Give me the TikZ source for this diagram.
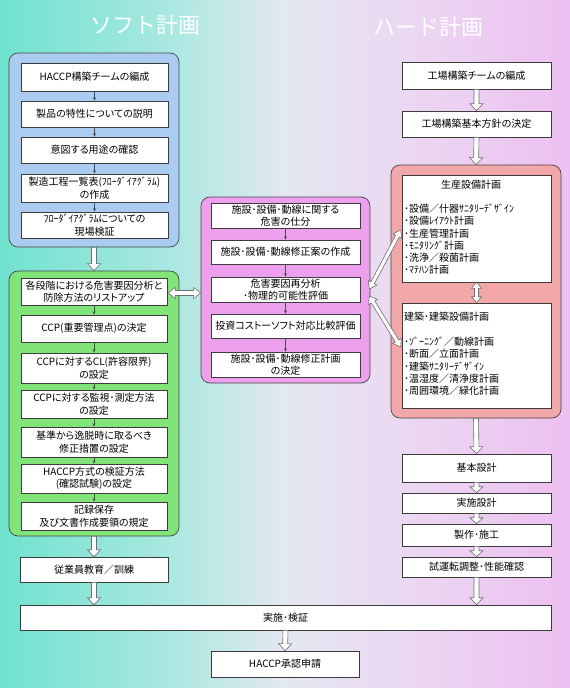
\documentclass[tikz,border=0pt]{standalone}
\usepackage{fontspec}
\setmainfont[RawFeature=+palt]{Noto Sans CJK JP}
\newfontfamily\titlefont{Noto Sans CJK JP}
\usetikzlibrary{calc,arrows.meta}
\definecolor{bgA}{RGB}{44,216,184}
\definecolor{bgB}{RGB}{92,224,200}
\definecolor{bgC}{RGB}{170,232,225}
\definecolor{bgD}{RGB}{228,232,240}
\definecolor{bgE}{RGB}{236,212,242}
\definecolor{bgF}{RGB}{237,184,240}
\definecolor{bgH}{RGB}{239,168,240}
\definecolor{bgG}{RGB}{240,160,238}
\definecolor{grpblue}{RGB}{170,204,240}
\definecolor{grpgreen}{RGB}{128,228,120}
\definecolor{grppink}{RGB}{238,160,238}
\definecolor{grpred}{RGB}{242,168,168}
\definecolor{grpline}{RGB}{70,70,70}
\definecolor{boxline}{RGB}{60,60,60}
\definecolor{arrline}{RGB}{110,110,110}
\pgfdeclarehorizontalshading{bgshade}{100bp}{color(0bp)=(bgA); color(20bp)=(bgB); color(40bp)=(bgC); color(50bp)=(bgD); color(63bp)=(bgE); color(80bp)=(bgF); color(90bp)=(bgH); color(100bp)=(bgG)}
\newcommand\bodyfont{\fontsize{10}{12.5}\selectfont}
\newcommand\listfont{\fontsize{10}{12.2}\selectfont}
% single hollow arrow: from, to, shaft half width, head half width, head length
\newcommand\hollowarrow[5]{%
  \coordinate (hac) at ($(#2)!#5!(#1)$);
  \draw[harrow] ($(#1)!#3!90:(#2)$) -- ($(hac)!#3!90:(#2)$) -- ($(hac)!#4!90:(#2)$) -- (#2)
    -- ($(hac)!#4!-90:(#2)$) -- ($(hac)!#3!-90:(#2)$) -- ($(#1)!#3!-90:(#2)$) -- cycle;}
% double hollow arrow
\newcommand\dblhollowarrow[5]{%
  \coordinate (hca) at ($(#1)!#5!(#2)$);
  \coordinate (hcb) at ($(#2)!#5!(#1)$);
  \draw[harrow] (#1) -- ($(hca)!#4!90:(#2)$) -- ($(hca)!#3!90:(#2)$) -- ($(hcb)!#3!90:(#2)$)
    -- ($(hcb)!#4!90:(#2)$) -- (#2) -- ($(hcb)!#4!-90:(#2)$) -- ($(hcb)!#3!-90:(#2)$)
    -- ($(hca)!#3!-90:(#2)$) -- ($(hca)!#4!-90:(#2)$) -- cycle;}
\begin{document}
\begin{tikzpicture}[x=1pt,y=-1pt,
  ibox/.style={draw=boxline, fill=white, line width=0.6pt, inner sep=1pt, align=center, font=\bodyfont},
  group/.style={draw=grpline, rounded corners=9pt, line width=0.7pt},
  sarrow/.style={draw=black!70, line width=0.5pt, -{Stealth[length=3.5pt,width=3pt]}},
  harrow/.style={draw=arrline, fill=white, line width=0.6pt, line join=miter},
  ttl/.style={text=white, font=\titlefont\fontsize{22}{24}\selectfont, inner sep=0pt},
  listtxt/.style={align=left, inner sep=0pt, font=\listfont}]
\useasboundingbox (0,0) rectangle (570,688);
\shade[shading=bgshade] (0,0) rectangle (570,688);

% titles
\node[ttl] (tsoft) at (145,25) {ソフト計画};
\node[ttl] (thard) at (428,27) {ハード計画};

% ---- blue group ----
\node[group, fill=grpblue, minimum width=170pt, minimum height=194pt] (blue) at (94,150) {};
\node[ibox, minimum width=147pt, minimum height=28pt] (b1) at (94.5,77) {HACCP構築チームの編成};
\node[ibox, minimum width=147pt, minimum height=26pt] (b2) at (94.5,114) {製品の特性についての説明};
\node[ibox, minimum width=147pt, minimum height=26pt] (b3) at (94.5,150) {意図する用途の確認};
\node[ibox, minimum width=147pt, minimum height=28pt] (b4) at (94.5,188) {製造工程一覧表(ﾌﾛｰﾀﾞｲｱｸﾞﾗﾑ)\\の作成};
\node[ibox, minimum width=147pt, minimum height=26pt] (b5) at (94.5,225) {ﾌﾛｰﾀﾞｲｱｸﾞﾗﾑについての\\現場検証};
\foreach \a/\b in {b1/b2,b2/b3,b3/b4,b4/b5} \draw[sarrow] (\a.south) -- (\b.north);

% ---- green group ----
\node[group, fill=grpgreen, minimum width=170pt, minimum height=265pt] (green) at (94,403.5) {};
\node[ibox, minimum width=146pt, minimum height=27pt] (g1) at (94,291.5) {各段階における危害要因分析と\\防除方法のリストアップ};
\node[ibox, minimum width=146pt, minimum height=27pt] (g2) at (94,328.5) {CCP(重要管理点)の決定};
\node[ibox, minimum width=146pt, minimum height=30pt] (g3) at (94,368) {CCPに対するCL(許容限界)\\の設定};
\node[ibox, minimum width=146pt, minimum height=28pt] (g4) at (94,404) {CCPに対する監視･測定方法\\の設定};
\node[ibox, minimum width=146pt, minimum height=30pt] (g5) at (94,442) {基準から逸脱時に取るべき\\修正措置の設定};
\node[ibox, minimum width=146pt, minimum height=29pt] (g6) at (94,478.5) {HACCP方式の検証方法\\(確認試験)の設定};
\node[ibox, minimum width=146pt, minimum height=28pt] (g7) at (94,516) {記録保存\\及び文書作成要領の規定};
\foreach \a/\b in {g1/g2,g2/g3,g3/g4,g4/g5,g5/g6,g6/g7} \draw[sarrow] (\a.south) -- (\b.north);

% ---- bottom left ----
\node[ibox, minimum width=148pt, minimum height=25pt] (emp) at (94,569.5) {従業員教育／訓練};
\node[ibox, minimum width=531pt, minimum height=25pt] (jisshi) at (285.5,617.5) {実施･検証};
\node[ibox, minimum width=148pt, minimum height=26pt] (haccp) at (285,664) {HACCP承認申請};

% ---- pink group ----
\node[group, fill=grppink, minimum width=169pt, minimum height=186pt] (pink) at (285.5,290) {};
\node[ibox, minimum width=149pt, minimum height=25pt] (p1) at (285.5,215.5) {施設･設備･動線に関する\\危害の仕分};
\node[ibox, minimum width=149pt, minimum height=24pt] (p2) at (285.5,252) {施設･設備･動線修正案の作成};
\node[ibox, minimum width=149pt, minimum height=25pt] (p3) at (285.5,289.5) {危害要因再分析\\･物理的可能性評価};
\node[ibox, minimum width=149pt, minimum height=24pt] (p4) at (285.5,326) {投資コストーソフト対応比較評価};
\node[ibox, minimum width=149pt, minimum height=25pt] (p5) at (285.5,364.5) {施設･設備･動線修正計画\\の決定};
\foreach \a/\b in {p1/p2,p2/p3,p3/p4,p4/p5} \draw[sarrow] (\a.south) -- (\b.north);

% ---- right column ----
\node[ibox, minimum width=149pt, minimum height=27pt] (r1) at (476.5,75.5) {工場構築チームの編成};
\node[ibox, minimum width=149pt, minimum height=26pt] (r2) at (476.5,124) {工場構築基本方針の決定};
\node[group, fill=grpred, minimum width=170pt, minimum height=253pt] (red) at (476,291.5) {};
\node[ibox, minimum width=149pt, minimum height=107pt] (prod) at (476.5,228.5) {};
\node[ibox, minimum width=149pt, minimum height=105pt] (arch) at (476.5,355.5) {};
\node[inner sep=0pt, font=\bodyfont] (prodt) at (471,185) {生産設備計画};
\node[listtxt, anchor=north west] (prodl) at (404,204) {･設備／什器ｻﾆﾀﾘｰﾃﾞｻﾞｲﾝ\\･設備ﾚｲｱｳﾄ計画\\･生産管理計画\\･ﾓﾆﾀﾘﾝｸﾞ計画\\･洗浄／殺菌計画\\･ﾏﾃﾊﾝ計画};
\node[inner sep=0pt, font=\bodyfont, anchor=west] (archt) at (404,317) {建築･建築設備計画};
\node[listtxt, anchor=north west] (archl) at (404,337) {･ｿﾞｰﾆﾝｸﾞ／動線計画\\･断面／立面計画\\･建築ｻﾆﾀﾘｰﾃﾞｻﾞｲﾝ\\･温湿度／清浄度計画\\･周囲環境／緑化計画};
\node[ibox, minimum width=149pt, minimum height=28pt] (kihon) at (476.5,468) {基本設計};
\node[ibox, minimum width=149pt, minimum height=20pt] (jsek) at (476.5,503) {実施設計};
\node[ibox, minimum width=149pt, minimum height=22pt] (seis) at (476.5,535) {製作･施工};
\node[ibox, minimum width=149pt, minimum height=20pt] (shi) at (476.5,567) {試運転調整･性能確認};

% ---- hollow arrows ----
\hollowarrow{blue.south}{green.north}{2.5pt}{6.5pt}{7pt}
\hollowarrow{green.south}{emp.north}{2.5pt}{6.5pt}{7pt}
\coordinate (empj) at (emp.south |- jisshi.north);
\hollowarrow{emp.south}{empj}{2.5pt}{6.5pt}{7pt}
\hollowarrow{jisshi.south}{haccp.north}{2.5pt}{6.5pt}{7pt}
\hollowarrow{r1.south}{r2.north}{2.5pt}{6.5pt}{7pt}
\hollowarrow{r2.south}{red.north}{2.5pt}{6.5pt}{7pt}
\hollowarrow{red.south}{kihon.north}{2.5pt}{6.5pt}{7pt}
\hollowarrow{kihon.south}{jsek.north}{2.5pt}{6.5pt}{6pt}
\hollowarrow{jsek.south}{seis.north}{2.5pt}{6.5pt}{6pt}
\hollowarrow{seis.south}{shi.north}{2.5pt}{6.5pt}{6pt}
\coordinate (shij) at (shi.south |- jisshi.north);
\hollowarrow{shi.south}{shij}{2.5pt}{6.5pt}{7pt}
\dblhollowarrow{prod.south}{arch.north}{2pt}{5pt}{6pt}
\coordinate (gpa) at ($(g1.east)+(1,1.5)$);
\coordinate (gpb) at (pink.west |- gpa);
\dblhollowarrow{gpa}{gpb}{2.5pt}{5.5pt}{7pt}
\coordinate (pu) at ($(pink.east)+(-1,-1)$);
\coordinate (pd) at ($(pink.east)+(-1,6)$);
\coordinate (tu) at ($(prod.west)+(-1,1.5)$);
\coordinate (td) at ($(arch.west)+(-1,-8.5)$);
\dblhollowarrow{pu}{tu}{2pt}{5pt}{7pt}
\dblhollowarrow{pd}{td}{2pt}{5pt}{7pt}
\end{tikzpicture}
\end{document}
